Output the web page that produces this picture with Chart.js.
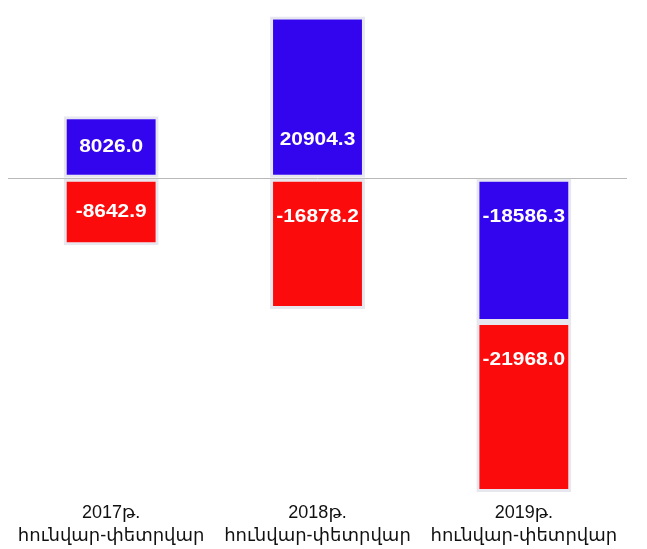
<!DOCTYPE html>
<html lang="hy">
<head>
  <meta charset="UTF-8" />
  <title>Bars</title>
  <script src="https://cdn.jsdelivr.net/npm/chart.js"></script>
  <style>
    html, body { margin: 0; padding: 0; background: #fff; }
    #wrap { width: 647px; height: 549px; }
  </style>
</head>
<body>
  <div id="wrap"><canvas id="chart"></canvas></div>
  <script>
    // data
    const periods = [
      ["2017թ.", "հունվար-փետրվար"],
      ["2018թ.", "հունվար-փետրվար"],
      ["2019թ.", "հունվար-փետրվար"]
    ];
    const blueValues = [8026.0, 20904.3, -18586.3];
    const redValues = [-8642.9, -16878.2, -21968.0];

    // white labels drawn inside each bar, a bit stretched like the original
    const barLabels = {
      id: "barLabels",
      afterDatasetsDraw(chart) {
        const ctx = chart.ctx;
        ctx.save();
        ctx.fillStyle = "#fff";
        ctx.font = "bold 19px 'Liberation Sans', Arial, sans-serif";
        ctx.textAlign = "center";
        ctx.textBaseline = "middle";
        chart.data.datasets.forEach((ds, di) => {
          chart.getDatasetMeta(di).data.forEach((bar, i) => {
            const v = ds.data[i];
            const h = Math.abs(bar.base - bar.y);
            const off = Math.min(h / 2, 38);
            const y = v >= 0 ? bar.base - off : bar.base + off;
            ctx.save();
            ctx.translate(bar.x, y);
            ctx.scale(1.1, 1);
            ctx.fillText(v.toFixed(1), 0, 0);
            ctx.restore();
          });
        });
        ctx.restore();
      }
    };

    new Chart(document.getElementById("chart"), {
      type: "bar",
      data: {
        labels: periods,
        datasets: [
          {
            data: blueValues,
            backgroundColor: "#3304ee",
            borderColor: "#e7e7f0",
            borderWidth: 3,
            borderSkipped: false
          },
          {
            data: redValues,
            backgroundColor: "#fb0b0b",
            borderColor: "#e7e7f0",
            borderWidth: 3,
            borderSkipped: false
          }
        ]
      },
      options: {
        responsive: true,
        maintainAspectRatio: false,
        animation: false,
        layout: { padding: { left: 8, right: 20, top: 12, bottom: 1 } },
        datasets: { bar: { categoryPercentage: 1, barPercentage: 0.46 } },
        plugins: { legend: { display: false }, tooltip: { enabled: false } },
        scales: {
          x: {
            stacked: true,
            grid: { display: false },
            border: { display: false },
            ticks: {
              color: "#111",
              padding: 0,
              font: { size: 18, family: "'Liberation Sans', 'DejaVu Sans', sans-serif", lineHeight: 1.3 }
            }
          },
          y: {
            stacked: true,
            min: -40700,
            max: 21500,
            border: { display: false },
            ticks: { display: false },
            afterBuildTicks(axis) { axis.ticks = [{ value: 0 }]; },
            grid: { color: "#b8b8b8", lineWidth: 1, drawTicks: false }
          }
        }
      },
      plugins: [barLabels]
    });
  </script>
</body>
</html>
